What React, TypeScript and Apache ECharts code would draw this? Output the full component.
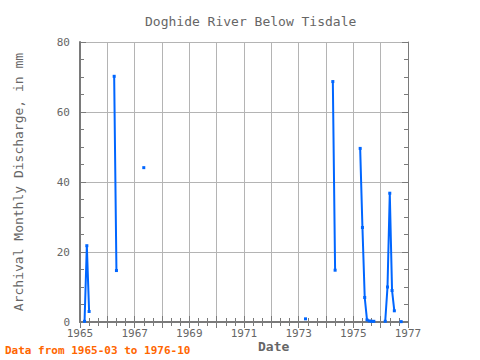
import React, { useEffect, useRef } from "react";
import * as echarts from "echarts";

const titleText = "Doghide River Below Tisdale";
const yAxisTitle = "Archival Monthly Discharge, in mm";
const xAxisTitle = "Date";
const footerText = "Data from 1965-03 to 1976-10";

const months = [
  "1965-03", "1965-04", "1965-05",
  "1966-04", "1966-05",
  "1967-05",
  "1973-04",
  "1974-04", "1974-05",
  "1975-04", "1975-05", "1975-06", "1975-07", "1975-08", "1975-09", "1975-10",
  "1976-03", "1976-04", "1976-05", "1976-06", "1976-07",
  "1976-10",
];
const discharge = [
  0.2, 21.8, 3.0,
  70.2, 14.7,
  44.1,
  0.9,
  68.7, 14.8,
  49.6, 27.0, 7.0, 0.6, 0.3, 0.2, 0.2,
  0.2, 10.0, 36.8, 9.0, 3.2,
  0.1,
];

const xMin = 1965;
const xMax = 1977;
const yMin = 0;
const yMax = 80;

function toYear(m: string): number {
  const [y, mo] = m.split("-").map(Number);
  return y + (mo - 1) / 12;
}

function buildData(): any[] {
  const out: any[] = [];
  for (let i = 0; i < months.length; i++) {
    const x = toYear(months[i]);
    if (i > 0) {
      const prev = toYear(months[i - 1]);
      if (x - prev > 1.5 / 12) out.push([(x + prev) / 2, "-"]);
    }
    out.push([x, discharge[i]]);
  }
  return out;
}

const FONT = "DejaVu Sans Mono";
const AXIS_COLOR = "#7a7a7a";
const GRID_COLOR = "#b4b4b4";
const TEXT_COLOR = "#666666";

export default function App() {
  const ref = useRef<HTMLDivElement>(null);
  useEffect(() => {
    if (!ref.current) return;
    const chart = echarts.init(ref.current, undefined, { renderer: "svg" });
    const tickCommon = {
      show: true,
      inside: true,
      length: 6,
      lineStyle: { color: AXIS_COLOR, width: 1 },
    };
    const axisLine = { show: true, lineStyle: { color: AXIS_COLOR, width: 2 } };
    chart.setOption({
      animation: false,
      backgroundColor: "#ffffff",
      title: {
        text: titleText,
        left: 140,
        top: 10,
        textStyle: { fontFamily: FONT, fontSize: 13, fontWeight: "normal", color: TEXT_COLOR },
      },
      grid: { left: 80, right: 72, top: 42, bottom: 38, containLabel: false },
      xAxis: [
        {
          type: "value",
          min: xMin,
          max: xMax,
          interval: 1,
          position: "bottom",
          axisLine,
          axisTick: tickCommon,
          minorTick: { show: true, splitNumber: 3, length: 4, lineStyle: { color: AXIS_COLOR } },
          splitLine: { show: true, lineStyle: { color: GRID_COLOR, width: 1 } },
          axisLabel: {
            fontFamily: FONT,
            fontSize: 11,
            color: TEXT_COLOR,
            margin: 6,
            formatter: (v: number) => ((Math.round(v) - xMin) % 2 === 0 ? String(Math.round(v)) : ""),
          },
        },
        {
          type: "value",
          min: xMin,
          max: xMax,
          interval: 1,
          position: "top",
          axisLine: { show: true, lineStyle: { color: AXIS_COLOR, width: 1 } },
          axisTick: tickCommon,
          minorTick: { show: true, splitNumber: 3, length: 4, lineStyle: { color: AXIS_COLOR } },
          splitLine: { show: false },
          axisLabel: { show: false },
        },
      ],
      yAxis: [
        {
          type: "value",
          min: yMin,
          max: yMax,
          interval: 20,
          position: "left",
          name: yAxisTitle,
          nameLocation: "middle",
          nameGap: 55,
          nameTextStyle: { fontFamily: FONT, fontSize: 13, color: TEXT_COLOR },
          axisLine,
          axisTick: tickCommon,
          minorTick: { show: true, splitNumber: 4, length: 4, lineStyle: { color: AXIS_COLOR } },
          splitLine: { show: true, lineStyle: { color: GRID_COLOR, width: 1 } },
          axisLabel: { fontFamily: FONT, fontSize: 11, color: TEXT_COLOR, margin: 10 },
        },
        {
          type: "value",
          min: yMin,
          max: yMax,
          interval: 20,
          position: "right",
          axisLine: { show: true, lineStyle: { color: AXIS_COLOR, width: 1 } },
          axisTick: tickCommon,
          minorTick: { show: true, splitNumber: 4, length: 4, lineStyle: { color: AXIS_COLOR } },
          splitLine: { show: false },
          axisLabel: { show: false },
        },
      ],
      graphic: [
        {
          type: "text",
          left: 258,
          top: 340,
          style: { text: xAxisTitle, font: `bold 13px "${FONT}"`, fill: TEXT_COLOR },
        },
        {
          type: "text",
          left: 5,
          top: 345,
          style: { text: footerText, font: `bold 11px "${FONT}"`, fill: "#ff6600" },
        },
      ],
      series: [
        {
          type: "line",
          xAxisIndex: 0,
          yAxisIndex: 0,
          data: buildData(),
          connectNulls: false,
          showSymbol: true,
          symbol: "rect",
          symbolSize: 3,
          lineStyle: { color: "#0066ff", width: 2 },
          itemStyle: { color: "#0066ff" },
        },
      ],
    });
    return () => chart.dispose();
  }, []);
  return (
    <div
      ref={ref}
      style={{ position: "absolute", left: 0, top: 0, width: 480, height: 360 }}
    />
  );
}
